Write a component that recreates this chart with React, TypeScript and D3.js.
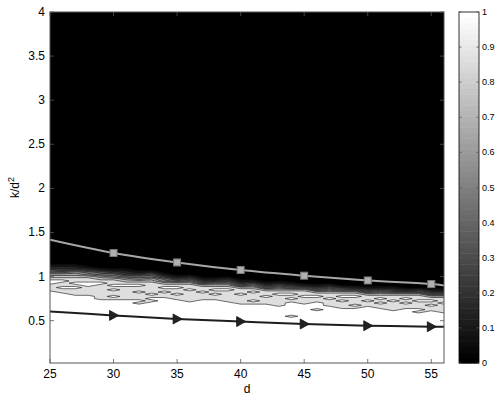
import React from "react";
import * as d3 from "d3";

const xTicks = [25, 30, 35, 40, 45, 50, 55];
const xTickLabels = ["25", "30", "35", "40", "45", "50", "55"];
const yTicks = [0.5, 1, 1.5, 2, 2.5, 3, 3.5, 4];
const yTickLabels = ["0.5", "1", "1.5", "2", "2.5", "3", "3.5", "4"];
const cbTicks = [0, 0.1, 0.2, 0.3, 0.4, 0.5, 0.6, 0.7, 0.8, 0.9, 1];
const cbTickLabels = ["0", "0.1", "0.2", "0.3", "0.4", "0.5", "0.6", "0.7", "0.8", "0.9", "1"];

// grid of the contour field: one column string per d, rows from top (y=1.225) down (step 0.025)
// '0'..'9' = 0.0..0.9, 'W' = 1
const gridD = [25, 26, 27, 28, 29, 30, 31, 32, 33, 34, 35, 36, 37, 38, 39, 40, 41, 42, 43, 44, 45, 46, 47, 48, 49, 50, 51, 52, 53, 54, 55, 56];
const gridY = [1.225, 1.2, 1.175, 1.15, 1.125, 1.1, 1.075, 1.05, 1.025, 1.0, 0.975, 0.95, 0.925, 0.9, 0.875, 0.85, 0.825, 0.8, 0.775, 0.75, 0.725, 0.7, 0.675, 0.65, 0.625, 0.6, 0.575, 0.55, 0.525];
const gridColumns = [
  "00001245789WW999WWWWWWWWWWWWW",
  "00001235789W99W99WWWWWWWWWWWW",
  "000012467899W9W999WWWWWWWWWWW",
  "000001356899WW9999WWWWWWWWWWW",
  "000000245789W9999999WWWWWWWWW",
  "0000001356899W9W99W9WWWWWWWWW",
  "0000001235789W999999WWWWWWWWW",
  "0000000135689W99W999W9WWWWWWW",
  "00000002457899999W9W9WWWWWWWW",
  "00000000135689W9W99WWWWWWWWWW",
  "00000000013589W99W99WWWWWWWWW",
  "000000000246899W99999WWWWWWWW",
  "0000000000135899W999WWWWWWWWW",
  "000000000013689W9W99WWWWWWWWW",
  "000000000024689W99999WWWWWWWW",
  "00000000000135899W9999WWWWWWW",
  "0000000000014689W999W9WWWWWWW",
  "000000000000135899W999WWWWWWW",
  "00000000000024689W99999WWWWWW",
  "00000000000013589W9W9WWWWWW9W",
  "000000000000025899W999WWWWWWW",
  "000000000000013589W99WWW9WWWW",
  "0000000000000246899W999WWWWWW",
  "000000000000003589W9W999WWWWW",
  "000000000000002589W999W9WWWWW",
  "00000000000000135899W99WWWWWW",
  "0000000000000014689W9W99WWWWW",
  "00000000000000135899W9999WWWW",
  "0000000000000002589W9W99WWWWW",
  "00000000000000035899W999W9WWW",
  "00000000000000013589W9W99WWWW",
  "000000000000000135899W9999WWW",
];
const levels = [0.05, 0.15, 0.25, 0.35, 0.45, 0.55, 0.65, 0.75, 0.85, 0.95];

const curveD = [25, 30, 35, 40, 45, 50, 55, 56];
const upperCurve = [1.417, 1.267, 1.16, 1.074, 1.01, 0.956, 0.915, 0.9];
const lowerCurve = [0.605, 0.56, 0.519, 0.49, 0.462, 0.443, 0.432, 0.43];
const markerIdx = [1, 2, 3, 4, 5, 6];

const FONT = "'Liberation Sans', Arial, Helvetica, sans-serif";

export default function App() {
  const L = 50, R = 444, T = 12, B = 363;
  const x = d3.scaleLinear().domain([25, 56]).range([L, R]);
  const y = d3.scaleLinear().domain([0.02, 4]).range([B, T]);
  const cb = d3.scaleLinear().domain([0, 1]).range([B, T]);

  const n = gridD.length;
  const dy = gridY[0] - gridY[1];
  const dd = gridD[1] - gridD[0];
  const padRows = Math.ceil((gridY[gridY.length - 1] - 0.02) / dy) + 3;
  const m = gridY.length + padRows;
  const values: number[] = new Array(n * m);
  for (let j = 0; j < m; j++) {
    for (let i = 0; i < n; i++) {
      const col = gridColumns[i];
      const ch = j < gridY.length ? (col[j] ?? "W") : "W";
      values[i + j * n] = ch === "W" ? 1 : +ch / 10;
    }
  }
  const contours = d3.contours().size([n, m]).thresholds(levels)(values);
  const proj = d3.geoTransform({
    point: function (px: number, py: number) {
      // @ts-ignore
      this.stream.point(x(gridD[0] + (px - 0.5) * dd), y(gridY[0] - (py - 0.5) * dy));
    },
  });
  const path = d3.geoPath(proj);
  const gray = (t: number) => {
    const v = Math.round((t > 0.9 ? 1 : t + 0.02) * 255);
    return `rgb(${v},${v},${v})`;
  };

  const line = d3
    .line<number>()
    .x((_, i) => x(curveD[i]))
    .y((v) => y(v))
    .curve(d3.curveCatmullRom);

  const cbSteps = d3.range(64);

  return (
    <svg width={500} height={400} style={{ position: "absolute", left: 0, top: 0, background: "#fff" }} fontFamily={FONT}>
      <defs>
        <clipPath id="plotclip">
          <rect x={L} y={T} width={R - L} height={B - T} />
        </clipPath>
      </defs>
      <rect x={0} y={0} width={500} height={400} fill="#fff" />
      <g clipPath="url(#plotclip)">
        <rect x={L} y={T} width={R - L} height={B - T} fill="#000" />
        {contours.map((c, k) => (
          <path key={"f" + k} d={path(c as any) || ""} fill={gray(c.value)} stroke="none" />
        ))}
        {contours.map((c, k) => (
          <path key={"s" + k} d={path(c as any) || ""} fill="none" stroke="#111" strokeWidth={0.6} />
        ))}
        <path d={line(upperCurve) || ""} fill="none" stroke="#a8a8a8" strokeWidth={2} />
        <path d={line(lowerCurve) || ""} fill="none" stroke="#1e1e1e" strokeWidth={2} />
        {markerIdx.map((i) => (
          <rect key={"sq" + i} x={x(curveD[i]) - 3.5} y={y(upperCurve[i]) - 3.5} width={7} height={7} fill="#b0b0b0" stroke="#7a7a7a" strokeWidth={1} />
        ))}
        {markerIdx.map((i) => {
          const cx = x(curveD[i]);
          const cy = y(lowerCurve[i]);
          return (
            <path key={"tr" + i} d={`M${cx - 4},${cy - 5}L${cx + 5},${cy}L${cx - 4},${cy + 5}Z`} fill="#222" stroke="#111" strokeWidth={0.8} />
          );
        })}
      </g>
      {/* axes box */}
      <rect x={L} y={T} width={R - L} height={B - T} fill="none" stroke="#555" strokeWidth={1} />
      {xTicks.map((t) => (
        <g key={"xt" + t}>
          <line x1={x(t)} x2={x(t)} y1={B} y2={B - 4} stroke="#555" strokeWidth={0.8} />
          <line x1={x(t)} x2={x(t)} y1={T} y2={T + 4} stroke="#555" strokeWidth={0.8} />
        </g>
      ))}
      {yTicks.map((t) => (
        <g key={"yt" + t}>
          <line x1={L} x2={L + 4} y1={y(t)} y2={y(t)} stroke="#555" strokeWidth={0.8} />
          <line x1={R} x2={R - 4} y1={y(t)} y2={y(t)} stroke="#555" strokeWidth={0.8} />
        </g>
      ))}
      {xTicks.map((t, i) => (
        <text key={"xl" + t} x={x(t)} y={378} fontSize={12} textAnchor="middle" fill="#000">
          {xTickLabels[i]}
        </text>
      ))}
      {yTicks.map((t, i) => (
        <text key={"yl" + t} x={45} y={y(t) + 4} fontSize={12} textAnchor="end" fill="#000">
          {yTickLabels[i]}
        </text>
      ))}
      <text x={(L + R) / 2} y={393} fontSize={12} textAnchor="middle" fill="#000">d</text>
      <text transform={`translate(19,${(T + B) / 2}) rotate(-90)`} fontSize={12} textAnchor="middle" fill="#000">
        k/d<tspan dy={-5} fontSize={9}>2</tspan>
      </text>
      {/* colorbar */}
      {cbSteps.map((k) => {
        const v = Math.round((k / 63) * 255);
        return (
          <rect key={"cb" + k} x={459} y={cb((k + 1) / 64)} width={20} height={cb(k / 64) - cb((k + 1) / 64) + 0.5} fill={`rgb(${v},${v},${v})`} />
        );
      })}
      <rect x={459} y={T} width={20} height={B - T} fill="none" stroke="#000" strokeWidth={0.8} />
      {cbTicks.map((t, i) => (
        <g key={"cbt" + t}>
          <line x1={459} x2={461.5} y1={cb(t)} y2={cb(t)} stroke="#555" strokeWidth={0.8} />
          <line x1={479} x2={476.5} y1={cb(t)} y2={cb(t)} stroke="#555" strokeWidth={0.8} />
          <text x={482} y={cb(t) + 3} fontSize={9} fill="#000">
            {cbTickLabels[i]}
          </text>
        </g>
      ))}
    </svg>
  );
}
